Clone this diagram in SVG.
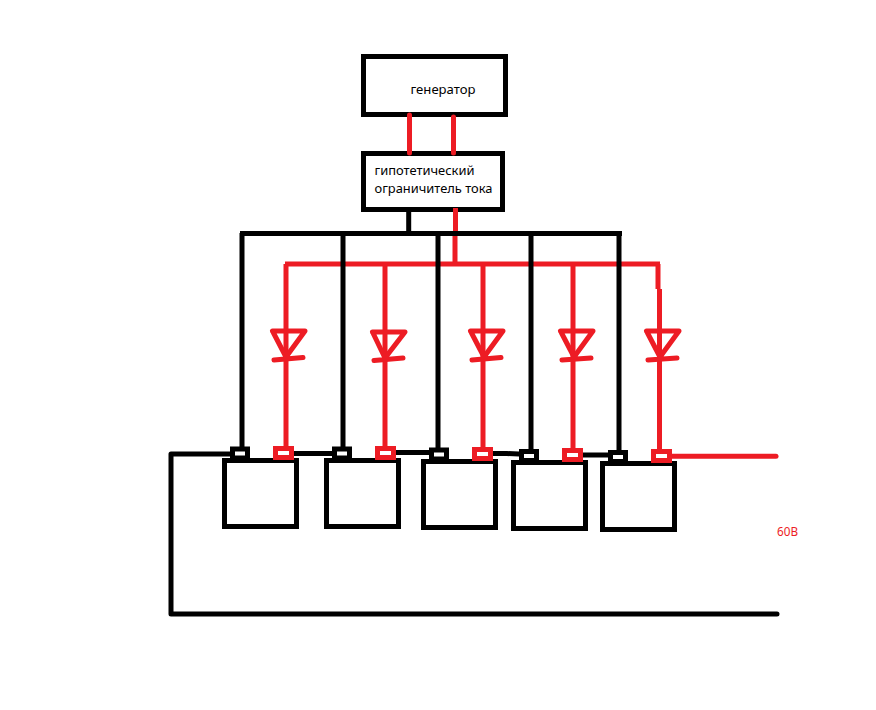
<svg xmlns="http://www.w3.org/2000/svg" width="876" height="710" viewBox="0 0 876 710">
<style>
.box{fill:#fff;stroke:#000;stroke-width:5}
.k{fill:none;stroke:#000;stroke-width:5;stroke-linecap:butt}
.r{fill:none;stroke:#ed1c24;stroke-width:5;stroke-linecap:butt}
.kr{fill:none;stroke:#000;stroke-width:5;stroke-linecap:round}
.rr{fill:none;stroke:#ed1c24;stroke-width:5;stroke-linecap:round;stroke-linejoin:round}
.tk{fill:#fff;stroke:#000;stroke-width:5}
.tr{fill:#fff;stroke:#ed1c24;stroke-width:5}
text{font-family:"Noto Sans","Open Sans","DejaVu Sans",sans-serif;font-size:13px;fill:#000}
</style>
<rect width="876" height="710" fill="#fff"/>
<g id="generator"><rect class="box" x="363.5" y="56.5" width="142" height="58"/><text x="410.5" y="94" textLength="65" lengthAdjust="spacingAndGlyphs">генератор</text></g>
<g id="limiter"><rect class="box" x="363.5" y="153.5" width="139" height="56"/><text x="374.5" y="175" textLength="100" lengthAdjust="spacingAndGlyphs">гипотетический</text><text x="374.5" y="193" textLength="118" lengthAdjust="spacingAndGlyphs">ограничитель тока</text></g>
<g id="connectors">
<path class="rr" d="M409.5 115V153M453.5 117V153"/>
<path class="r" d="M455.5 208V233M455 236V266M285 264H660M286 264V448M385 264V447M483 264V447M573 264V448M658 264V289M659.5 289V450"/>
<path class="k" d="M408.7 209V233M240 233.500H622M242 233V449M343 233V449M438 233V449M531 233V450M619 233V451"/>
<path class="kr" d="M171 454H232M171 454V614M171 614H777M294 453.500H333M396 452.500H430M493 453.500H507L530 454.500M583 455H608"/>
<path class="rr" d="M672 456.300H776"/>
</g>
<g id="battery1"><rect class="box" x="224.500" y="460.500" width="72" height="66"/><rect class="tk" x="232.500" y="449" width="15" height="9"/><rect class="tr" x="275.500" y="448.500" width="16" height="9"/></g>
<g id="battery2"><rect class="box" x="326.500" y="460.500" width="72" height="66"/><rect class="tk" x="334.500" y="449" width="15" height="9"/><rect class="tr" x="377.500" y="448.500" width="16" height="9"/></g>
<g id="battery3"><rect class="box" x="423.500" y="461.500" width="72" height="66"/><rect class="tk" x="431.500" y="450" width="15" height="9"/><rect class="tr" x="474.500" y="449.500" width="16" height="9"/></g>
<g id="battery4"><rect class="box" x="513.500" y="462.500" width="72" height="66"/><rect class="tk" x="521.500" y="451.500" width="15" height="9"/><rect class="tr" x="564.500" y="450.500" width="16" height="9"/></g>
<g id="battery5"><rect class="box" x="602.500" y="463.500" width="72" height="66"/><rect class="tk" x="610.500" y="452.500" width="15" height="9"/><rect class="tr" x="653.500" y="451.500" width="16" height="9"/></g>
<g id="diode1"><path class="rr" d="M272.500 331H305L286 357L272.500 331M274 360L303 357.500"/></g>
<g id="diode2"><path class="rr" d="M372.500 332H405L385 358L372.500 332M374 360.500L403 358"/></g>
<g id="diode3"><path class="rr" d="M470.500 331H503L484 357L470.500 331M472 360L501 357.500"/></g>
<g id="diode4"><path class="rr" d="M560.500 331H593L574 357L560.500 331M562 360L591 358"/></g>
<g id="diode5"><path class="rr" d="M646.500 331H679L660 357L646.500 331M648 360L677 358"/></g>
<g id="label60v"><text x="777" y="536" font-size="12" style="fill:#ed1c24;font-size:12px" textLength="21" lengthAdjust="spacingAndGlyphs">60В</text></g>
</svg>
